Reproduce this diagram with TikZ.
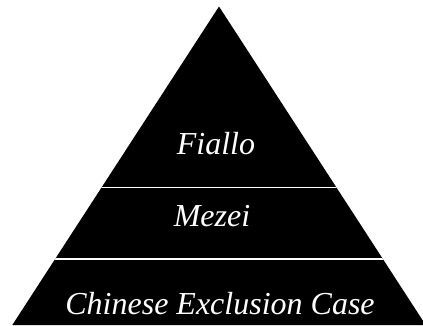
\documentclass[tikz,border=0pt]{standalone}
\usepackage{fontspec}
\setmainfont{Liberation Serif}
\begin{document}
\begin{tikzpicture}[x=1pt,y=-1pt,
  lvl/.style={text=white,font=\fontsize{32}{37}\selectfont\itshape,anchor=base,inner sep=0pt},
  sep/.style={draw=white,line width=1.2pt}]
\useasboundingbox (0,0) rectangle (423,325);
\coordinate (apex) at (219,6.5);
\coordinate (bl) at (12.3,325);
\coordinate (br) at (425.7,325);
\fill[black] (apex) -- (bl) -- (br) -- cycle;
\begin{scope}
\clip (apex) -- (bl) -- (br) -- cycle;
\coordinate (s1l) at (0,187.5);
\coordinate (s1r) at (423,187.5);
\coordinate (s2l) at (0,259);
\coordinate (s2r) at (423,259);
\draw[sep] (s1l) -- (s1r);
\draw[sep] (s2l) -- (s2r);
\end{scope}
\node[lvl] (fiallo) at (216,154) {Fiallo};
\node[lvl] (mezei) at (212,226) {Mezei};
\node[lvl] (chinese) at (220,314) {Chinese Exclusion Case};
\end{tikzpicture}
\end{document}
